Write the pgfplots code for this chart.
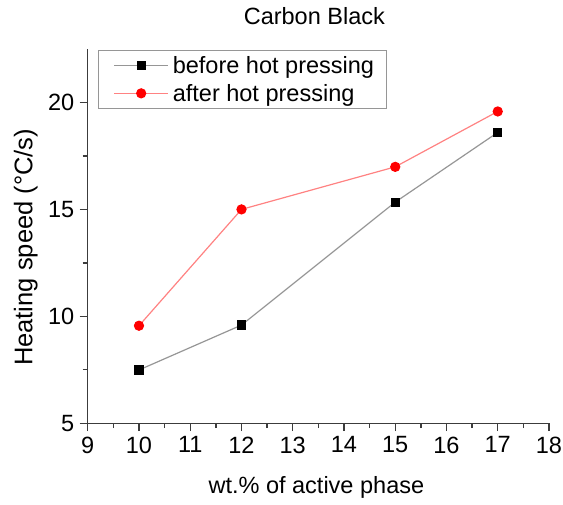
\documentclass[border=0pt]{standalone}
\usepackage{fontspec}
\setmainfont{Liberation Sans}
\usepackage{pgfplots}
\pgfplotsset{compat=1.18}
\definecolor{lgray}{RGB}{150,150,150}
\definecolor{lred}{RGB}{255,130,130}
\definecolor{axc}{RGB}{60,60,60}
\newcommand{\ff}{\fontsize{23.5}{27}\selectfont}
\begin{document}
\begin{tikzpicture}
\begin{axis}[
  scale only axis, width=461pt, height=374pt,
  xmin=9, xmax=18, ymin=5, ymax=22.5,
  axis x line*=bottom, axis y line*=left,
  xtick={9,10,...,18}, ytick={5,10,15,20},
  minor x tick num=1, minor y tick num=1,
  tick align=outside, major tick length=8pt, minor tick length=5pt,
  axis line style={line width=1.3pt, color=axc},
  every tick/.style={line width=1.3pt, color=axc},
  every minor tick/.style={line width=1.3pt, color=axc},
  font=\ff,
  /pgf/number format/assume math mode=true,
  tick label style={font=\ff},
  xticklabel style={yshift=-2pt},
  yticklabel style={xshift=-2pt},
  title={Carbon Black},
  title style={at={(0.5,1)}, anchor=base, yshift=19pt, xshift=-4pt, font=\ff},
  xlabel={wt.\% of active phase},
  xlabel style={at={(0.5,0)}, anchor=base, yshift=-70pt, xshift=-2pt, font=\ff},
  ylabel={Heating speed (°C/s)},
  ylabel style={at={(0,0.47)}, anchor=center, yshift=62pt, font=\fontsize{25.5}{29}\selectfont},
  legend style={at={(10.3/461,1-1/374)}, anchor=north west, draw=lgray, line width=1pt,
    font=\ff, inner xsep=8pt, inner ysep=4pt,
    row sep=5pt, cells={anchor=west},
    nodes={inner xsep=4pt}},
  legend image code/.code={%
    \path (0pt,0pt);
    \draw[mark repeat=2,mark phase=2] plot coordinates {(7pt,0pt) (34pt,0pt) (61pt,0pt)};},
]
\addplot[color=lgray, line width=1.2pt, mark=square*, mark size=4pt,
  mark options={solid, fill=black, draw=black}]
  coordinates {(10,7.49) (12,9.59) (15,15.34) (17,18.6)};
\addlegendentry{before hot pressing}
\addplot[color=lred, line width=1.2pt, mark=*, mark size=4.5pt,
  mark options={solid, fill=red, draw=red}]
  coordinates {(10,9.56) (12,15.0) (15,16.99) (17,19.58)};
\addlegendentry{after hot pressing}
\end{axis}
\pgfresetboundingbox
\path ([shift={(-87.7pt,-81pt)}]current axis.south west) rectangle ([shift={(14pt,49pt)}]current axis.north east);
\end{tikzpicture}
\end{document}
